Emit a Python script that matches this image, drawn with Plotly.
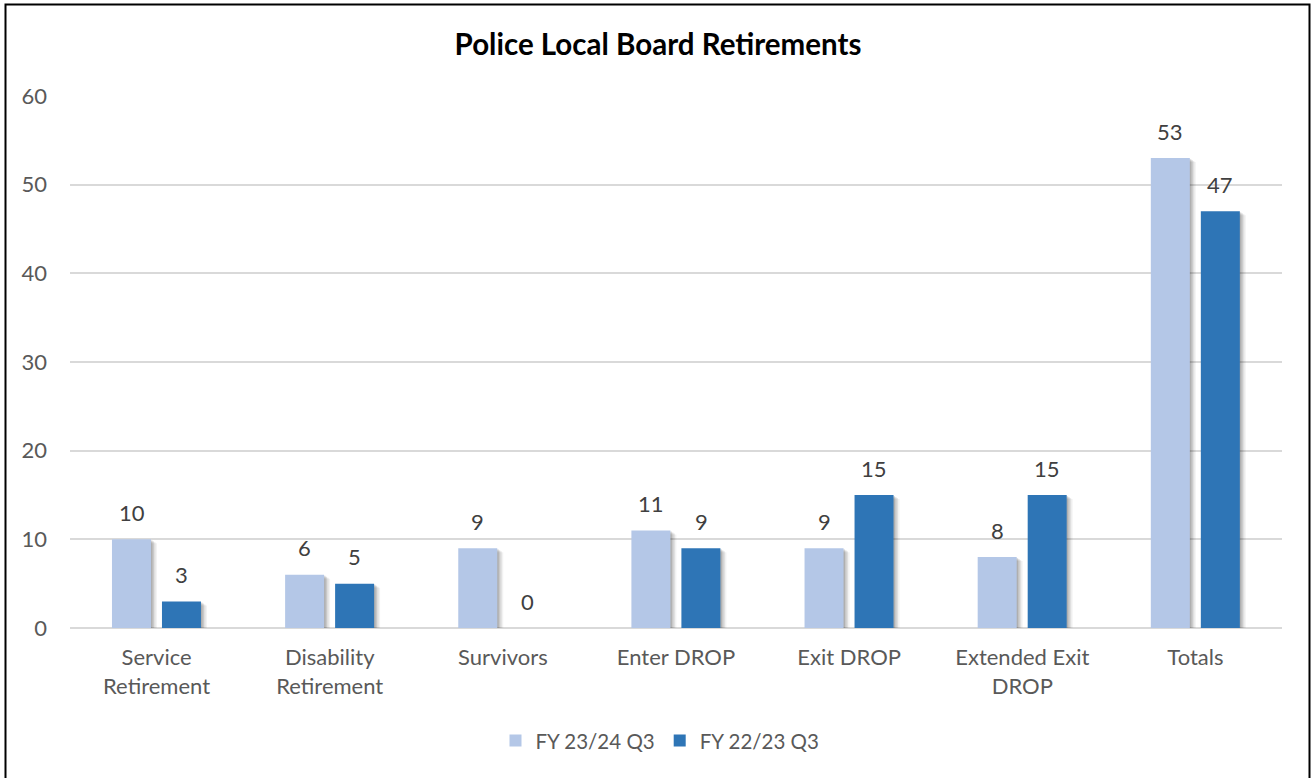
import plotly.graph_objects as go

categories = ["Service<br>Retirement", "Disability<br>Retirement", "Survivors", "Enter DROP",
              "Exit DROP", "Extended Exit<br>DROP", "Totals"]
fy2324 = [10, 6, 9, 11, 9, 8, 53]
fy2223 = [3, 5, 0, 9, 15, 15, 47]
series_names = ["FY 23/24 Q3", "FY 22/23 Q3"]
colors = ["#b4c7e7", "#2e75b6"]

FONT = "Lato, Open Sans, sans-serif"
CAT_PX = 1212 / 7
BAR_W = 39 / CAT_PX
OFFSETS = [-44.6 / CAT_PX, 5.4 / CAT_PX]

fig = go.Figure()
# soft drop shadows
for k, (sx, sy, a) in enumerate([(1.5, 1.0, 0.12), (3.0, 2.0, 0.10), (4.5, 3.0, 0.08), (6.0, 4.0, 0.05)]):
    for vals, off in zip([fy2324, fy2223], OFFSETS):
        fig.add_trace(go.Bar(x=categories, y=vals, base=-sy * 60 / 532,
                             width=BAR_W, offset=off + sx / CAT_PX,
                             marker_color=f"rgba(0,0,0,{a})", marker_line_width=0,
                             showlegend=False, hoverinfo="skip"))
for name, vals, col, off in zip(series_names, [fy2324, fy2223], colors, OFFSETS):
    fig.add_trace(go.Bar(x=categories, y=vals, name=name, marker_color=col,
                         marker_line_width=0, width=BAR_W, offset=off))

annotations = []
for vals, xs in zip([fy2324, fy2223], [-25, 25]):
    for c, v in zip(categories, vals):
        annotations.append(dict(x=c, y=v, xref="x", yref="y", text=str(v), showarrow=False,
                                xshift=xs, yshift=27, yanchor="middle",
                                font=dict(family=FONT, size=22, color="#404040")))

fig.update_layout(
    width=1316, height=778,
    paper_bgcolor="white", plot_bgcolor="white",
    margin=dict(l=70, r=34, t=96, b=150),
    title=dict(text="<b>Police Local Board Retirements</b>", x=0.5, xref="container",
               xanchor="center", y=1 - 45 / 778, yanchor="middle",
               font=dict(family=FONT, size=29.5, color="#000000")),
    barmode="overlay",
    legend=dict(orientation="h", x=0.4868, xanchor="center", y=-0.212, yanchor="middle",
                font=dict(family=FONT, size=20.5, color="#595959"), itemwidth=30,
                traceorder="normal"),
    annotations=annotations,
    showlegend=True,
)
fig.update_xaxes(showgrid=False, showline=False, ticks="", ticklabelstandoff=14,
                 tickfont=dict(family=FONT, size=22, color="#595959"))
fig.update_yaxes(range=[0, 60], dtick=10, showgrid=True, gridcolor="#d9d9d9", gridwidth=1.5,
                 zeroline=True, zerolinecolor="#d9d9d9", zerolinewidth=1.5, showline=False,
                 ticks="", ticklabelstandoff=22,
                 tickfont=dict(family=FONT, size=22, color="#595959"))

fig.add_shape(type="rect", xref="paper", yref="paper",
              x0=(5.5 - 70) / 1212, x1=(1309.5 - 70) / 1212,
              y0=-0.6, y1=(628 - 4.5) / 532,
              line=dict(color="black", width=2), fillcolor="rgba(0,0,0,0)", layer="above")

fig.write_html("out.html", config={"displayModeBar": False},
               post_script="document.body.style.margin='0';document.body.style.overflow='hidden';")
